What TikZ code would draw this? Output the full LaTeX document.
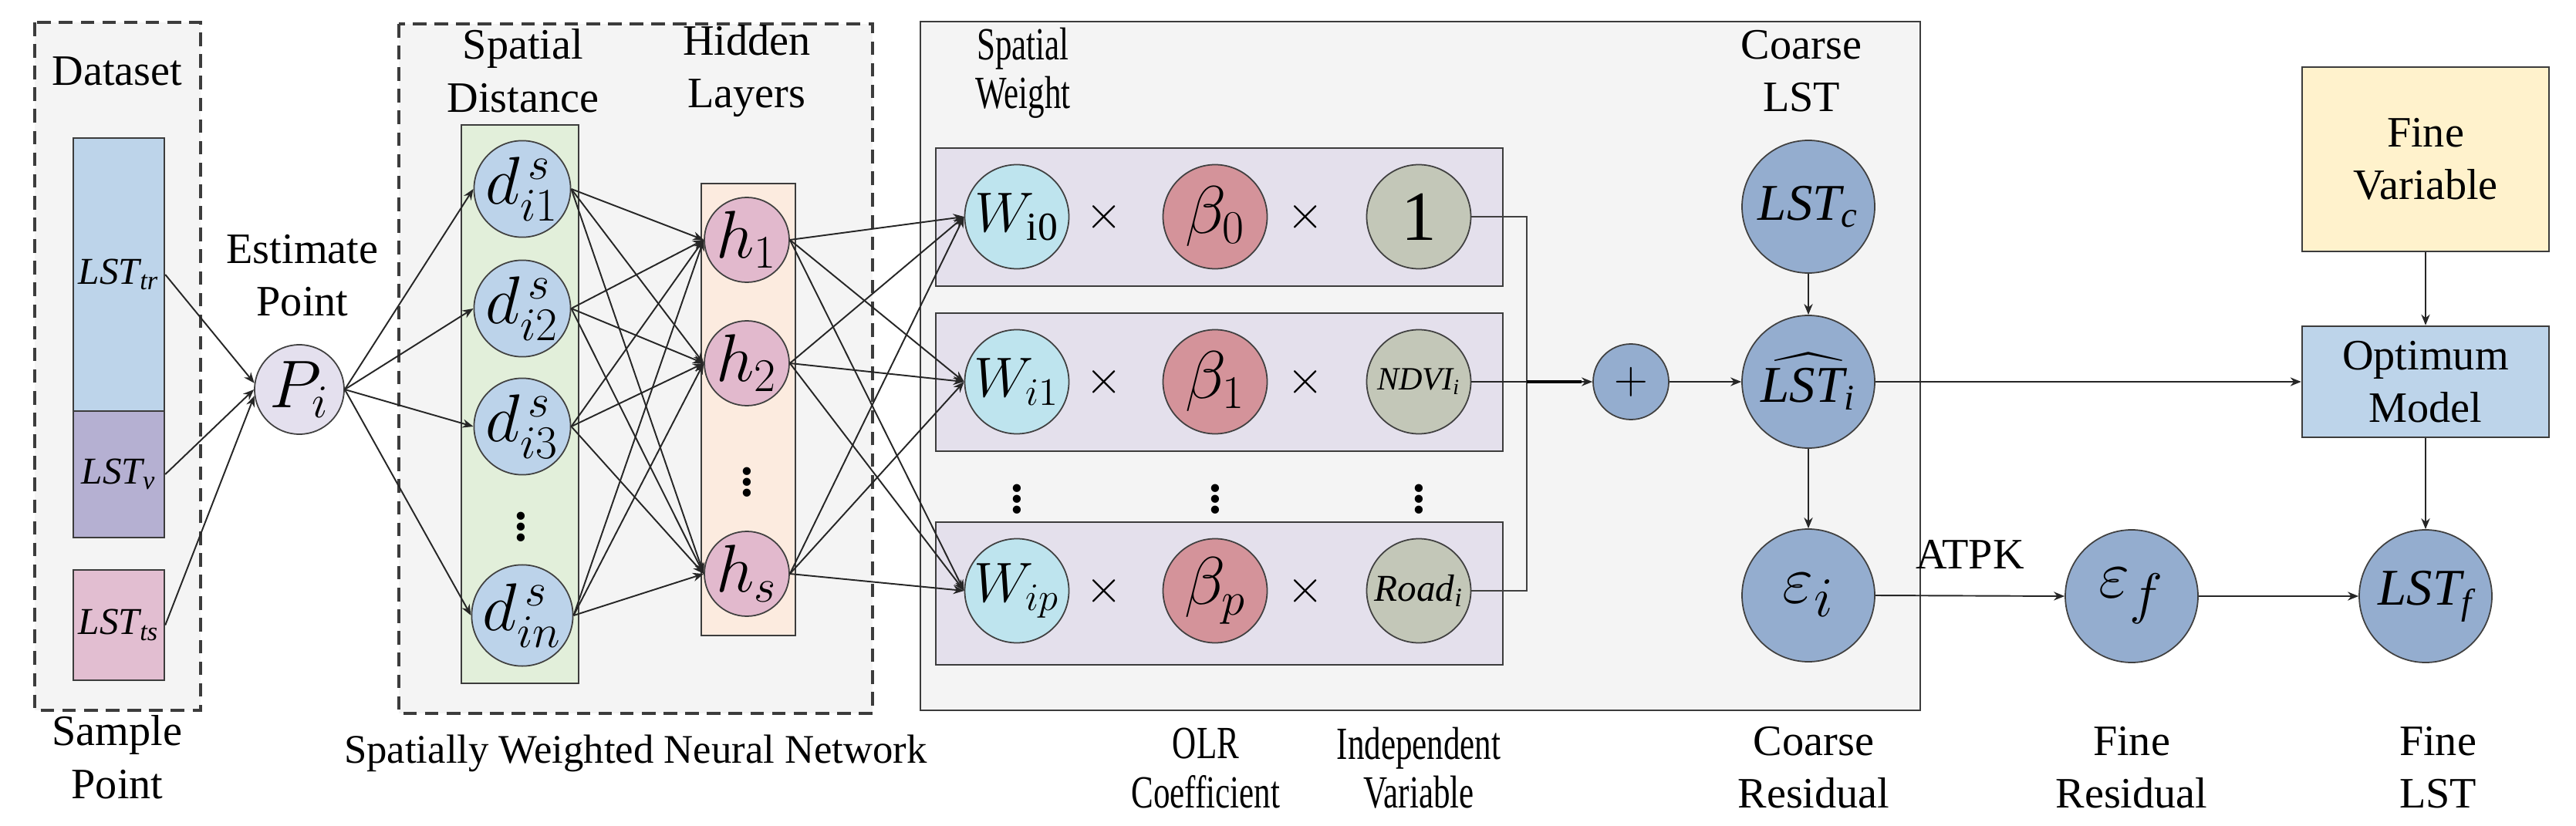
\documentclass[tikz,border=0pt]{standalone}
\usepackage{amsmath}
\usepackage{fontspec}
\setmainfont{Liberation Serif}
\newfontfamily\condfont[FakeStretch=0.72]{Liberation Serif}
\usetikzlibrary{arrows.meta}

\definecolor{panelgray}{HTML}{F4F4F4}
\definecolor{edgegray}{HTML}{3C3C3C}
\definecolor{trblue}{HTML}{BDD4EA}
\definecolor{vpurple}{HTML}{B5B0D2}
\definecolor{tspink}{HTML}{E2BED1}
\definecolor{plilac}{HTML}{E4E0EE}
\definecolor{dblue}{HTML}{BCD3EA}
\definecolor{hpink}{HTML}{E2B9CD}
\definecolor{distgreen}{HTML}{E2EFDA}
\definecolor{hidpeach}{HTML}{FCEBDF}
\definecolor{rowlilac}{HTML}{E4E0EC}
\definecolor{wcyan}{HTML}{BEE4EE}
\definecolor{brose}{HTML}{D4939A}
\definecolor{vsage}{HTML}{C3C7B8}
\definecolor{lstblue}{HTML}{94ADCF}
\definecolor{fineyellow}{HTML}{FFF2CC}

\tikzset{
  arr/.style={-{Stealth[length=4pt,width=3.2pt]}, draw=black!85, line width=0.55pt},
  ball/.style={draw=black!75, circle, inner sep=0pt, line width=0.5pt},
  databox/.style={draw=edgegray, rectangle, minimum width=1.18cm, inner sep=0pt,
    line width=0.7pt, font=\rmfamily\fontsize{14}{14}\selectfont},
  flowbox/.style={draw=edgegray, rectangle, minimum width=3.2cm, align=center,
    line width=0.7pt},
  dashpanel/.style={draw=edgegray, fill=panelgray, line width=0.9pt, dash pattern=on 5pt off 3pt},
  dotsnode/.style={font=\rmfamily\bfseries\fontsize{18}{18}\selectfont, inner sep=0pt},
  condlbl/.style={align=center, font=\condfont\fontsize{17}{18}\selectfont},
}

\begin{document}
\rmfamily
\begin{tikzpicture}[font=\rmfamily\fontsize{16}{19.5}\selectfont]
    \useasboundingbox (0,0) rectangle (33.39,-10.71);

    % panels
    \draw[dashpanel] (0.45,-0.29) rectangle (2.60,-9.21);
    \draw[dashpanel] (5.17,-0.31) rectangle (11.31,-9.25);
    \draw[draw=edgegray, fill=panelgray, line width=0.8pt] (11.93,-0.28) rectangle (24.89,-9.21);
    \draw[draw=edgegray, fill=distgreen, line width=0.7pt] (5.98,-1.62) rectangle (7.50,-8.86);
    \draw[draw=edgegray, fill=hidpeach, line width=0.7pt] (9.09,-2.38) rectangle (10.31,-8.24);
    \draw[draw=edgegray, fill=rowlilac, line width=0.7pt] (12.13,-1.92) rectangle (19.48,-3.71);
    \draw[draw=edgegray, fill=rowlilac, line width=0.7pt] (12.13,-4.06) rectangle (19.48,-5.85);
    \draw[draw=edgegray, fill=rowlilac, line width=0.7pt] (12.13,-6.77) rectangle (19.48,-8.62);

    % sample point
    \node (dataset) at (1.52,-0.92) {Dataset};
    \node[databox, fill=trblue, minimum height=3.54cm] (tr) at (1.54,-3.56) {$\textit{LST}_{\textit{tr}}$};
    \node[databox, fill=vpurple, minimum height=1.64cm] (vd) at (1.54,-6.15) {$\textit{LST}_{\textit{v}}$};
    \node[databox, fill=tspink, minimum height=1.43cm] (ts) at (1.54,-8.105) {$\textit{LST}_{\textit{ts}}$};
    \node[align=center] (samplelbl) at (1.52,-9.82) {Sample\\Point};

    % estimate point
    \node[align=center] (estlbl) at (3.92,-3.57) {Estimate\\Point};
    \node[ball, fill=plilac, minimum size=1.16cm, font=\fontsize{26}{26}\selectfont] (Pi) at (3.88,-5.05) {$P_i$};

    % spatial distance
    \node[align=center] (distlbl) at (6.78,-0.92) {Spatial\\Distance};
    \node[ball, fill=dblue, minimum size=1.2cm, font=\fontsize{24}{24}\selectfont] (d1) at (6.77,-2.45) {$d^{\,s}_{i1}$};
    \node[ball, fill=dblue, minimum size=1.2cm, font=\fontsize{24}{24}\selectfont] (d2) at (6.77,-4.00) {$d^{\,s}_{i2}$};
    \node[ball, fill=dblue, minimum size=1.2cm, font=\fontsize{24}{24}\selectfont] (d3) at (6.77,-5.53) {$d^{\,s}_{i3}$};
    \node[dotsnode] (ddots) at (6.75,-6.73) {$\vdots$};
    \node[ball, fill=dblue, minimum size=1.2cm, font=\fontsize{24}{24}\selectfont] (dn) at (6.77,-7.98) {$d^{\,s}_{in}$};

    % hidden layers
    \node[align=center] (hidlbl) at (9.68,-0.92) {Hidden\\Layers};
    \node[ball, fill=hpink, minimum size=1.1cm, font=\fontsize{24}{24}\selectfont] (h1) at (9.68,-3.11) {$h_1$};
    \node[ball, fill=hpink, minimum size=1.1cm, font=\fontsize{24}{24}\selectfont] (h2) at (9.68,-4.71) {$h_2$};
    \node[dotsnode] (hdots) at (9.68,-6.15) {$\vdots$};
    \node[ball, fill=hpink, minimum size=1.1cm, font=\fontsize{24}{24}\selectfont] (hs) at (9.68,-7.44) {$h_s$};
    \node[font=\rmfamily\fontsize{15}{18}\selectfont] (swnnlbl) at (8.24,-9.77) {Spatially Weighted Neural Network};

    % spatial weight rows
    \node[condlbl] (wlbl) at (13.26,-0.95) {Spatial\\Weight};
    \node[ball, fill=wcyan, minimum size=1.35cm, font=\fontsize{21}{21}\selectfont] (w0) at (13.18,-2.81) {$W_{\mathrm{i0}}$};
    \node[ball, fill=brose, minimum size=1.35cm, font=\fontsize{24}{24}\selectfont] (b0) at (15.75,-2.81) {$\beta_0$};
    \node[ball, fill=vsage, minimum size=1.35cm, font=\rmfamily\fontsize{26}{26}\selectfont] (v0) at (18.39,-2.81) {1};
    \node (x01) at (14.31,-2.81) {$\times$};
    \node (x02) at (16.92,-2.81) {$\times$};

    \node[ball, fill=wcyan, minimum size=1.35cm, font=\fontsize{21}{21}\selectfont] (w1) at (13.18,-4.95) {$W_{i1}$};
    \node[ball, fill=brose, minimum size=1.35cm, font=\fontsize{24}{24}\selectfont] (b1) at (15.75,-4.95) {$\beta_1$};
    \node[ball, fill=vsage, minimum size=1.35cm, font=\fontsize{12}{12}\selectfont] (v1) at (18.39,-4.95) {$\textit{NDVI}_{\textit{i}}$};
    \node (x11) at (14.31,-4.95) {$\times$};
    \node (x12) at (16.92,-4.95) {$\times$};

    \node[dotsnode] (wdots) at (13.18,-6.37) {$\vdots$};
    \node[dotsnode] (bdots) at (15.75,-6.37) {$\vdots$};
    \node[dotsnode] (vdots) at (18.39,-6.37) {$\vdots$};

    \node[ball, fill=wcyan, minimum size=1.35cm, font=\fontsize{21}{21}\selectfont] (wp) at (13.18,-7.66) {$W_{ip}$};
    \node[ball, fill=brose, minimum size=1.35cm, font=\fontsize{24}{24}\selectfont] (bp) at (15.75,-7.66) {$\beta_p$};
    \node[ball, fill=vsage, minimum size=1.35cm, font=\fontsize{14}{14}\selectfont] (vp) at (18.39,-7.66) {$\textit{Road}_{\textit{i}}$};
    \node (xp1) at (14.31,-7.66) {$\times$};
    \node (xp2) at (16.92,-7.66) {$\times$};

    \node[condlbl] (olrlbl) at (15.63,-9.96) {OLR\\Coefficient};
    \node[condlbl] (indlbl) at (18.39,-9.96) {Independent\\Variable};

    % coarse LST
    \node[align=center] (clstlbl) at (23.35,-0.92) {Coarse\\LST};
    \node[ball, fill=lstblue, minimum size=0.98cm, font=\fontsize{16}{16}\selectfont] (plus) at (21.14,-4.95) {$+$};
    \node[ball, fill=lstblue, minimum size=1.72cm, font=\fontsize{19}{19}\selectfont] (lc) at (23.44,-2.68) {$\textit{LST}_{\textit{c}}$};
    \node[ball, fill=lstblue, minimum size=1.72cm, font=\fontsize{19}{19}\selectfont] (li) at (23.44,-4.95) {$\widehat{\textit{LST}_{\textit{i}}}$};
    \node[ball, fill=lstblue, minimum size=1.72cm, font=\fontsize{28}{28}\selectfont] (ei) at (23.44,-7.72) {$\varepsilon_i$};
    \node[align=center] (cresl) at (23.51,-9.95) {Coarse\\Residual};

    % fine side
    \node[flowbox, fill=fineyellow, minimum height=2.39cm] (fvar) at (31.44,-2.065) {Fine\\Variable};
    \node[flowbox, fill=trblue, minimum height=1.44cm] (opt) at (31.44,-4.95) {Optimum\\Model};
    \node[ball, fill=lstblue, minimum size=1.72cm, font=\fontsize{28}{28}\selectfont] (ef) at (27.63,-7.73) {$\varepsilon_f$};
    \node[ball, fill=lstblue, minimum size=1.72cm, font=\fontsize{19}{19}\selectfont] (lf) at (31.44,-7.73) {$\textit{LST}_{\textit{f}}$};
    \node[align=center] (fresl) at (27.63,-9.95) {Fine\\Residual};
    \node[align=center] (flstl) at (31.60,-9.95) {Fine\\LST};

    % connectors
    \draw[arr] (tr.east) -- (Pi.172);
    \draw[arr] (vd.east) -- (Pi.west);
    \draw[arr] (ts.east) -- (Pi.188);
    \foreach \d in {d1,d2,d3,dn}
        \draw[arr] (Pi.east) -- (\d.west);
    \foreach \d in {d1,d2,d3,dn}
        \foreach \h in {h1,h2,hs}
            \draw[arr] (\d.east) -- (\h.west);
    \foreach \h in {h1,h2,hs}
        \foreach \w in {w0,w1,wp}
            \draw[arr] (\h.east) -- (\w.west);

    \coordinate (join) at (19.79,-4.95);
    \draw[draw=black!75, line width=0.55pt] (v0.east) -| (join);
    \draw[draw=black!75, line width=0.55pt] (vp.east) -| (join);
    \draw[arr] (v1.east) -- (plus.west);
    \draw[line width=1pt] (join) -- ([xshift=-4pt]plus.west);

    \draw[arr] (plus.east) -- (li.west);
    \draw[arr] (lc.south) -- (li.north);
    \draw[arr] (li.south) -- (ei.north);
    \draw[arr] (li.east) -- (opt.west);
    \draw[arr] (ei.east) -- node[above=0.22cm] (atpk) {ATPK} (ef.west);
    \draw[arr] (ef.east) -- (lf.west);
    \draw[arr] (fvar.south) -- (opt.north);
    \draw[arr] (opt.south) -- (lf.north);
\end{tikzpicture}
\end{document}
